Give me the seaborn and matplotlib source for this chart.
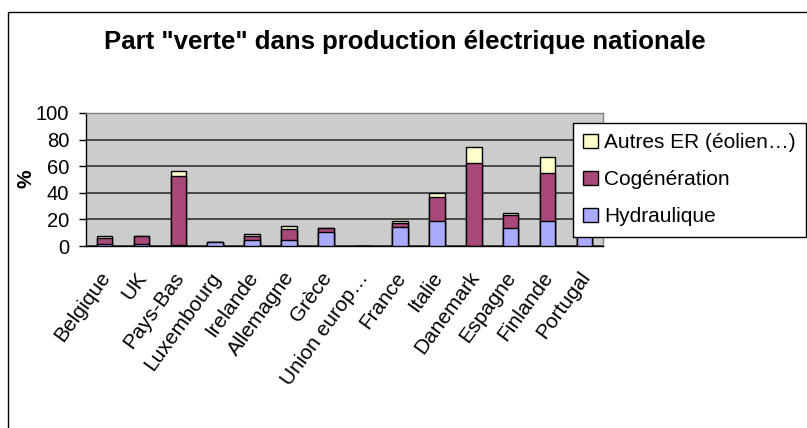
import matplotlib
matplotlib.use("Agg")
import matplotlib.pyplot as plt
import matplotlib.patches as mpatches
from matplotlib.transforms import ScaledTranslation
import seaborn as sns
import pandas as pd
import numpy as np

# data (% of national electricity production)
pays = ["Belgique", "UK", "Pays-Bas", "Luxembourg", "Irelande", "Allemagne", "Grèce",
        "Union europ…", "France", "Italie", "Danemark", "Espagne", "Finlande", "Portugal"]
hydraulique = [1.3, 1.3, 0.5, 2.8, 4.3, 4.3, 10.3, 0, 14.5, 19, 0, 13.3, 19, 28]
cogeneration = [4.5, 6, 52.5, 0, 3, 8.7, 3, 0, 3, 18, 62.5, 10, 36, 8]
autres_er = [1.5, 0, 3.5, 0, 1.5, 1.8, 0, 0, 1.5, 3, 12, 1.7, 12, 1]

series_names = ["Autres ER (éolien…)", "Cogénération", "Hydraulique"]
colors = ["#FFFFCC", "#A8497A", "#AAAAFF"]

df = pd.DataFrame({"pays": pays, "hydro": hydraulique, "cogen": cogeneration, "autres": autres_er})
df["h_top"] = df["hydro"]
df["c_top"] = df["hydro"] + df["cogen"]
df["a_top"] = df["c_top"] + df["autres"]

sns.set_style("white")
plt.rcParams["font.family"] = ["Liberation Sans", "DejaVu Sans"]
plt.rcParams["text.color"] = "black"
plt.rcParams["xtick.color"] = "black"
plt.rcParams["ytick.color"] = "black"
plt.rcParams["axes.labelcolor"] = "black"

fig = plt.figure(figsize=(8.07, 4.28), dpi=100)
ax = fig.add_axes([86 / 807, 1 - 246 / 428, (603 - 86) / 807, (246 - 113) / 428])
ax.set_facecolor("#CCCCCC")

# stacked bars: draw cumulative totals from the top down
for col, c in zip(["a_top", "c_top", "h_top"], colors):
    sns.barplot(data=df, x="pays", y=col, color=c, saturation=1, width=0.42,
                edgecolor="black", linewidth=1, errorbar=None, ax=ax, zorder=3)

ax.set_ylim(0, 100)
ax.set_xlim(-0.5, len(pays) - 0.5)
ax.set_yticks(range(0, 101, 20))
ax.yaxis.grid(True, color="#333333", linewidth=1.2, zorder=1)
ax.set_axisbelow(True)
ax.set_xlabel("")
ax.set_ylabel("")

ax.set_xticks(range(len(pays)))
ax.set_xticklabels(pays, rotation=54, ha="right", va="top", rotation_mode="anchor", fontsize=15)
ax.set_xticks(np.arange(-0.5, len(pays), 1), minor=True)
ax.tick_params(axis="x", which="major", length=0, pad=16)
ax.tick_params(axis="x", which="minor", length=5, width=1, color="black", direction="out")
ax.tick_params(axis="y", length=5, width=1, color="black", direction="out", pad=7, labelsize=14.5)
ax.yaxis.set_ticks_position("left")
# labels sit a little left of the category centre, as in the original
shift = ScaledTranslation(-6 / 100, 0, fig.dpi_scale_trans)
for lbl in ax.get_xticklabels():
    lbl.set_transform(lbl.get_transform() + shift)

for side in ["top", "right"]:
    ax.spines[side].set_color("#808080")
    ax.spines[side].set_linewidth(1)
for side in ["left", "bottom"]:
    ax.spines[side].set_color("black")
    ax.spines[side].set_linewidth(1)

fig.text(405 / 807, 1 - 42 / 428, 'Part "verte" dans production électrique nationale',
         ha="center", va="center", fontsize=18.5, fontweight="bold")
fig.text(26 / 807, 1 - 179 / 428, "%", rotation=90, ha="center", va="center",
         fontsize=15, fontweight="bold")

handles = [mpatches.Patch(facecolor=c, edgecolor="black", linewidth=1) for c in colors]
leg = fig.legend(handles, series_names, loc="upper left",
                 bbox_to_anchor=(573 / 807, 1 - 123 / 428), fontsize=15,
                 frameon=True, fancybox=False, framealpha=1, edgecolor="black",
                 handlelength=0.7, handleheight=0.7, handletextpad=0.3,
                 labelspacing=0.86, borderpad=0.5, borderaxespad=0)
leg.get_frame().set_linewidth(1)

# outer chart frame
frame = mpatches.Rectangle((8 / 807, -0.1), 1.2, 1 - 12 / 428 + 0.1, transform=fig.transFigure,
                           fill=False, edgecolor="black", linewidth=1)
fig.patches.append(frame)

fig.savefig("out.png", dpi=100)
